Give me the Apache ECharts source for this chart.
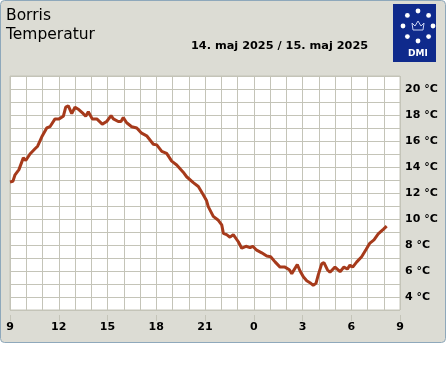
<!DOCTYPE html>
<html>
<head>
<meta charset="utf-8">
<script src="https://cdn.jsdelivr.net/npm/echarts@6/dist/echarts.min.js"></script>
<style>
  html, body { margin: 0; padding: 0; background: #fff; }
  #chart { width: 447px; height: 370px; }
</style>
</head>
<body>
<div id="chart"></div>
<script>
// hours counted from 00:00 on 14 May (24+ = 15 May)
const hours = [9.00, 9.18, 9.31, 9.55, 9.82, 9.97, 10.23, 10.54, 10.70, 10.95, 11.26, 11.46, 11.77, 12.02, 12.28, 12.43, 12.59, 12.80, 13.00, 13.25, 13.51, 13.66, 13.82, 14.06, 14.34, 14.68, 14.95, 15.22, 15.36, 15.66, 15.83, 15.97, 16.18, 16.49, 16.80, 17.10, 17.41, 17.82, 18.03, 18.34, 18.64, 18.95, 19.26, 19.66, 19.87, 20.28, 20.59, 20.90, 21.10, 21.20, 21.51, 21.82, 22.03, 22.13, 22.33, 22.54, 22.74, 22.85, 23.05, 23.26, 23.52, 23.77, 23.94, 24.18, 24.49, 24.80, 25.04, 25.31, 25.62, 25.92, 26.19, 26.34, 26.68, 26.85, 27.05, 27.26, 27.46, 27.66, 27.83, 27.97, 28.18, 28.32, 28.53, 28.69, 29.00, 29.31, 29.55, 29.76, 29.92, 30.09, 30.34, 30.64, 30.91, 31.15, 31.40, 31.66, 31.97, 32.18];
const temps = [12.85, 12.9, 13.4, 13.8, 14.7, 14.5, 15.0, 15.4, 15.6, 16.3, 17.0, 17.1, 17.7, 17.7, 17.9, 18.6, 18.7, 18.1, 18.6, 18.4, 18.1, 17.9, 18.25, 17.7, 17.7, 17.3, 17.5, 17.95, 17.7, 17.5, 17.5, 17.8, 17.4, 17.1, 17.0, 16.6, 16.4, 15.75, 15.7, 15.2, 15.05, 14.45, 14.15, 13.6, 13.25, 12.8, 12.5, 11.85, 11.4, 10.95, 10.2, 9.9, 9.55, 8.9, 8.8, 8.6, 8.8, 8.7, 8.25, 7.75, 7.9, 7.8, 7.9, 7.6, 7.4, 7.15, 7.1, 6.7, 6.3, 6.3, 6.1, 5.8, 6.5, 6.0, 5.55, 5.25, 5.1, 4.9, 5.05, 5.7, 6.55, 6.65, 6.1, 5.9, 6.3, 5.95, 6.3, 6.15, 6.45, 6.3, 6.7, 7.1, 7.65, 8.15, 8.4, 8.85, 9.2, 9.45];
const hourTicks = [9, 12, 15, 18, 21, 24, 27, 30, 33];
const station = 'Borris';
const param = 'Temperatur';
const dateText = '14. maj 2025 / 15. maj 2025';

const gridColor = '#c4c4b8';
const font = 'DejaVu Sans';

let chart = echarts.init(document.getElementById('chart'));
let points = hours.map((h, i) => [h, temps[i]]);

// DMI logo dots round the crown
let dots = [];
for (let i = 0; i < 8; i++) {
    let a = i * Math.PI / 4;
    dots.push({
        type: 'circle',
        shape: { cx: 418 + 15 * Math.sin(a), cy: 26 - 15 * Math.cos(a), r: 2.4 },
        style: { fill: '#fff' },
        z: 12
    });
}

let option = {
    animation: false,
    grid: {
        left: 10, top: 76, width: 390, height: 234,
        show: true,
        backgroundColor: '#fff',
        borderColor: gridColor,
        borderWidth: 1
    },
    xAxis: [{
        type: 'value',
        min: 9, max: 33, interval: 1,
        axisLine: { show: false },
        axisTick: { show: false },
        axisLabel: { show: false },
        splitLine: { show: true, lineStyle: { color: gridColor, width: 1 } }
    }, {
        type: 'value',
        min: 9, max: 33, interval: 3,
        position: 'bottom',
        offset: 5,
        axisLine: { show: false },
        axisTick: { show: true, length: 6, lineStyle: { color: gridColor } },
        axisLabel: {
            margin: 7,
            fontFamily: font, fontSize: 11, fontWeight: 'bold', color: '#000',
            formatter: v => hourTicks.indexOf(v) >= 0 ? String(v % 24) : ''
        },
        splitLine: { show: false }
    }],
    yAxis: {
        type: 'value',
        position: 'right',
        min: 3, max: 21, interval: 1,
        axisLine: { show: false },
        axisTick: { show: false },
        axisLabel: {
            margin: 5,
            fontFamily: font, fontSize: 11, fontWeight: 'bold', color: '#000',
            formatter: v => (v % 2 === 0 ? v + ' °C' : '')
        },
        splitLine: { show: true, lineStyle: { color: gridColor, width: 1 } }
    },
    graphic: [{
        type: 'rect',
        shape: { x: 0.5, y: 0.5, width: 445, height: 342, r: 4 },
        style: { fill: '#dcdcd4', stroke: '#8ea8bb', lineWidth: 1 },
        z: -10, silent: true
    }, {
        type: 'text', x: 6, y: 15.5,
        style: { text: station, font: '15.5px "DejaVu Sans"', fill: '#000', verticalAlign: 'middle' },
        z: 10
    }, {
        type: 'text', x: 6, y: 35,
        style: { text: param, font: '15.5px "DejaVu Sans"', fill: '#000', verticalAlign: 'middle' },
        z: 10
    }, {
        type: 'text', x: 191, y: 46,
        style: { text: dateText, font: 'bold 11.3px "DejaVu Sans"', fill: '#000', verticalAlign: 'middle' },
        z: 10
    }, {
        type: 'rect',
        shape: { x: 393, y: 4, width: 43, height: 58 },
        style: { fill: '#0f2a8c' },
        z: 11
    }, {
        type: 'polyline',
        shape: { points: [[413, 30], [412, 23], [415, 26], [418, 21], [421, 26], [424, 23], [423, 30], [413, 30]] },
        style: { fill: null, stroke: '#c9d2f2', lineWidth: 1 },
        z: 12
    }, {
        type: 'text', x: 418, y: 54,
        style: { text: 'DMI', font: 'bold 9px "DejaVu Sans"', fill: '#fff', align: 'center', verticalAlign: 'middle' },
        z: 12
    }].concat(dots),
    series: [{
        type: 'line',
        xAxisIndex: 0,
        data: points,
        showSymbol: false,
        lineStyle: { color: '#a63a1b', width: 3 },
        z: 5
    }]
};
chart.setOption(option);
</script>
</body>
</html>
